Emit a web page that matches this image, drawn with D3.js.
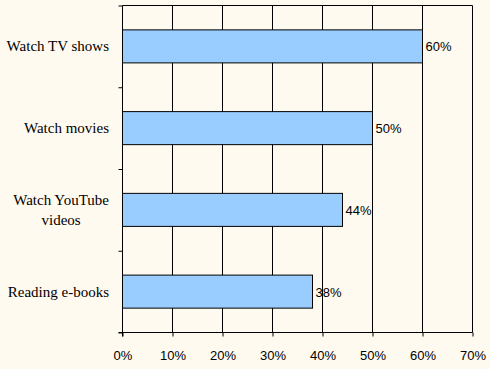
<!DOCTYPE html>
<html>
<head>
<meta charset="utf-8">
<script src="https://cdn.jsdelivr.net/npm/d3@7"></script>
<style>
  html, body { margin: 0; padding: 0; background: #fffaf0; }
  svg { display: block; }
</style>
</head>
<body>
<svg id="chart"></svg>
<script>
var categories = ["Watch TV shows", "Watch movies", "Watch YouTube videos", "Reading e-books"];
var labelLines = [["Watch TV shows"], ["Watch movies"], ["Watch YouTube", "videos"], ["Reading e-books"]];
var values = [60, 50, 44, 38];
var xTicks = [0, 10, 20, 30, 40, 50, 60, 70];

var w = 490, h = 369;
var plotL = 122.5, plotR = 472.5, plotT = 5.5, plotB = 332.5;

var svg = d3.select("#chart").attr("width", w).attr("height", h);
svg.append("rect").attr("width", w).attr("height", h).attr("fill", "#fffaf0");

var x = d3.scaleLinear().domain([0, 70]).range([plotL, plotR]);
var y = d3.scaleBand().domain(categories).range([plotT, plotB]).padding(0);
var yEdge = d3.scaleLinear().domain([0, categories.length]).range([plotT, plotB]);

var sansFont = "'Liberation Sans', Arial, sans-serif";
var serifFont = "'Liberation Serif', 'Times New Roman', serif";

// vertical gridlines
svg.append("g").selectAll("line").data(xTicks.slice(1)).enter().append("line")
    .attr("x1", function(d){ return x(d); })
    .attr("x2", function(d){ return x(d); })
    .attr("y1", plotT).attr("y2", plotB)
    .attr("stroke", "#000").attr("stroke-width", 1);

// plot border top
svg.append("line").attr("x1", plotL).attr("x2", plotR).attr("y1", plotT).attr("y2", plotT)
    .attr("stroke", "#000");

// bars
var barH = y.bandwidth() * 0.404;
svg.append("g").selectAll("rect").data(values).enter().append("rect")
    .attr("x", x(0))
    .attr("y", function(d, i){ return y(categories[i]) + y.bandwidth() / 2 - barH / 2; })
    .attr("width", function(d){ return x(d) - x(0); })
    .attr("height", barH)
    .attr("fill", "#99ccff")
    .attr("stroke", "#000").attr("stroke-width", 1);

// value labels
svg.append("g").selectAll("text").data(values).enter().append("text")
    .attr("x", function(d){ return x(d) + 3; })
    .attr("y", function(d, i){ return y(categories[i]) + y.bandwidth() / 2 + 5; })
    .attr("font-family", sansFont).attr("font-size", 13)
    .attr("fill", "#000")
    .text(function(d){ return d + "%"; });

// x axis
var xAxis = d3.axisBottom(x).tickValues(xTicks).tickSize(4).tickPadding(14)
    .tickFormat(function(d){ return d + "%"; });
var gx = svg.append("g").attr("transform", "translate(0," + plotB + ")").call(xAxis);
gx.select(".domain").attr("d", "M" + (plotL - 4) + ",0H" + plotR);
gx.selectAll("line").attr("stroke", "#000");
gx.selectAll("text").attr("font-family", sansFont).attr("font-size", 13).attr("fill", "#000");

// y axis (ticks on category boundaries)
var yAxis = d3.axisLeft(yEdge).tickValues(d3.range(categories.length + 1)).tickSize(4).tickFormat("");
var gy = svg.append("g").attr("transform", "translate(" + plotL + ",0)").call(yAxis);
gy.select(".domain").attr("d", "M0," + plotT + "V" + (plotB + 4));
gy.selectAll("line").attr("stroke", "#000");

// category labels
var labelRight = 109;
labelLines.forEach(function(lines, i){
    var cy = y(categories[i]) + y.bandwidth() / 2;
    var g = svg.append("g");
    var lh = 20;
    var texts = g.selectAll("text").data(lines).enter().append("text")
        .attr("font-family", serifFont).attr("font-size", 15).attr("fill", "#000")
        .attr("text-anchor", "middle")
        .attr("y", function(d, j){ return cy + 5 + (j - (lines.length - 1) / 2) * lh; })
        .text(function(d){ return d; });
    var maxW = 0;
    texts.each(function(){ maxW = Math.max(maxW, this.getComputedTextLength()); });
    texts.attr("x", labelRight - maxW / 2);
});
</script>
</body>
</html>
